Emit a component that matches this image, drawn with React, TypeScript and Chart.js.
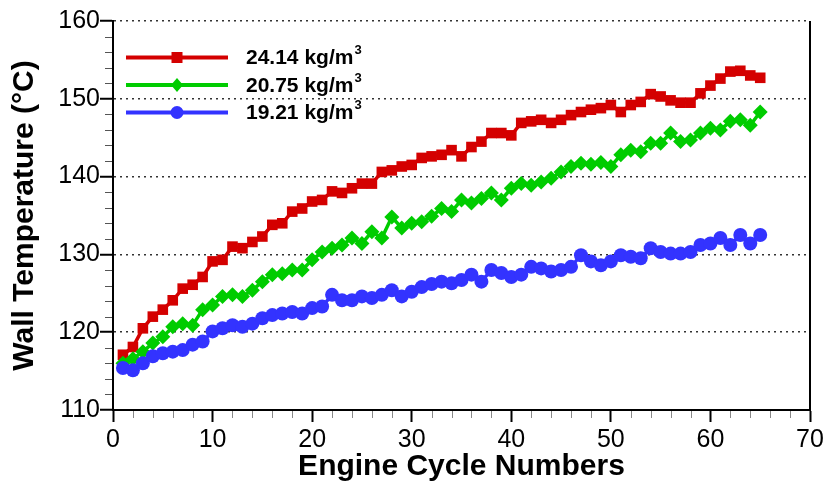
import React, { useEffect, useRef } from 'react';
import { Chart, registerables } from 'chart.js';

Chart.register(...registerables);

const CYCLES = [
  1, 2, 3, 4, 5, 6, 7, 8, 9, 10, 11, 12, 13, 14, 15, 16, 17, 18, 19, 20,
  21, 22, 23, 24, 25, 26, 27, 28, 29, 30, 31, 32, 33, 34, 35, 36, 37, 38, 39, 40,
  41, 42, 43, 44, 45, 46, 47, 48, 49, 50, 51, 52, 53, 54, 55, 56, 57, 58, 59, 60,
  61, 62, 63, 64, 65,
];

const RED_24_14 = [
  117.1, 118.1, 120.5, 122.0, 122.9, 124.1, 125.6, 126.1, 127.1, 129.1,
  129.3, 131.0, 130.8, 131.6, 132.3, 133.8, 134.0, 135.5, 135.9, 136.8,
  137.0, 138.1, 137.9, 138.5, 139.1, 139.1, 140.6, 140.8, 141.3, 141.5,
  142.4, 142.6, 142.8, 143.4, 142.6, 143.8, 144.5, 145.6, 145.6, 145.3,
  146.9, 147.1, 147.3, 146.9, 147.3, 147.9, 148.3, 148.6, 148.8, 149.2,
  148.3, 149.2, 149.6, 150.6, 150.3, 149.8, 149.5, 149.5, 150.7, 151.7,
  152.6, 153.5, 153.6, 153.0, 152.7,
];

const GREEN_20_75 = [
  116.0, 116.6, 117.5, 118.6, 119.4, 120.7, 121.1, 120.9, 122.9, 123.5,
  124.6, 124.8, 124.6, 125.4, 126.5, 127.4, 127.5, 128.0, 128.0, 129.3,
  130.3, 130.8, 131.2, 132.1, 131.4, 132.9, 132.1, 134.8, 133.4, 134.0,
  134.2, 134.9, 135.9, 135.5, 137.0, 136.6, 137.2, 137.9, 137.0, 138.5,
  139.1, 138.9, 139.3, 139.8, 140.6, 141.3, 141.7, 141.6, 141.8, 141.3,
  142.8, 143.4, 143.2, 144.3, 144.3, 145.6, 144.5, 144.7, 145.6, 146.2,
  146.0, 147.1, 147.3, 146.6, 148.3,
];

const BLUE_19_21 = [
  115.4, 115.1, 116.0, 116.9, 117.3, 117.5, 117.7, 118.4, 118.8, 120.1,
  120.5, 120.9, 120.7, 121.1, 121.8, 122.2, 122.4, 122.6, 122.4, 123.1,
  123.3, 124.8, 124.1, 124.1, 124.6, 124.4, 124.8, 125.4, 124.6, 125.2,
  125.8, 126.2, 126.5, 126.3, 126.7, 127.4, 126.5, 128.0, 127.6, 127.1,
  127.4, 128.4, 128.2, 127.8, 128.0, 128.4, 129.9, 129.1, 128.6, 129.1,
  129.9, 129.7, 129.5, 130.8, 130.3, 130.1, 130.1, 130.3, 131.2, 131.4,
  132.1, 131.2, 132.5, 131.4, 132.5,
];

const SERIES_LABELS = ['24.14 kg/m', '20.75 kg/m', '19.21 kg/m'];
const SERIES_SUPERSCRIPT = '3';
const X_TITLE = 'Engine Cycle Numbers';
const Y_TITLE = 'Wall Temperature (°C)';
const X_MIN = 0;
const X_MAX = 70;
const X_STEP = 10;
const Y_MIN = 110;
const Y_MAX = 160;
const Y_STEP = 10;
const MINOR_STEP = 2;

const FONT = "'Liberation Sans', Arial, Helvetica, sans-serif";
const COLORS = ['#d40000', '#00cc00', '#3333ff'];
const SHAPES = ['rect', 'rectRot', 'circle'];

export default function App() {
  const ref = useRef<HTMLCanvasElement>(null);

  useEffect(() => {
    document.body.style.margin = '0';
    const canvas = ref.current;
    if (!canvas) return;

    const toPts = (arr: number[]) => CYCLES.map((c, i) => ({ x: c, y: arr[i] }));
    const values = [RED_24_14, GREEN_20_75, BLUE_19_21];
    const radii = [7.5, 7.5, 7];

    const datasets = values.map((arr, i) => ({
      label: SERIES_LABELS[i],
      data: toPts(arr),
      borderColor: COLORS[i],
      backgroundColor: COLORS[i],
      borderWidth: 3.5,
      pointStyle: SHAPES[i] as any,
      pointRadius: radii[i],
      pointBorderWidth: 0,
      pointBackgroundColor: COLORS[i],
      tension: 0,
      order: 3 - i,
    }));

    const extras = {
      id: 'extras',
      afterDraw(chart: any) {
        const c = chart.ctx as CanvasRenderingContext2D;
        const area = chart.chartArea;
        const xs = chart.scales.x;
        const ys = chart.scales.y;
        c.save();
        // right frame line
        c.strokeStyle = '#000';
        c.lineWidth = 2;
        c.beginPath();
        c.moveTo(area.right, area.top);
        c.lineTo(area.right, area.bottom + 1);
        c.stroke();
        // minor ticks
        c.lineWidth = 1;
        c.strokeStyle = '#888';
        for (let v = X_MIN; v <= X_MAX; v += MINOR_STEP) {
          if (v % X_STEP === 0) continue;
          const px = Math.round(xs.getPixelForValue(v)) + 0.5;
          c.beginPath();
          c.moveTo(px, area.bottom + 1);
          c.lineTo(px, area.bottom + 8);
          c.stroke();
        }
        c.strokeStyle = '#555';
        for (let v = Y_MIN; v <= Y_MAX; v += MINOR_STEP) {
          if (v % Y_STEP === 0) continue;
          const py = Math.round(ys.getPixelForValue(v)) + 0.5;
          c.beginPath();
          c.moveTo(area.left - 8, py);
          c.lineTo(area.left - 1, py);
          c.stroke();
        }
        // legend
        const lx0 = area.left + 13;
        const lx1 = area.left + 115;
        const mx = area.left + 64;
        const tx = area.left + 133;
        for (let i = 0; i < 3; i++) {
          const y = area.top + 36.5 + i * 27.5;
          c.strokeStyle = COLORS[i];
          c.fillStyle = COLORS[i];
          c.lineWidth = 4;
          c.beginPath();
          c.moveTo(lx0, y);
          c.lineTo(lx1, y);
          c.stroke();
          c.beginPath();
          if (i === 0) {
            c.rect(mx - 5.5, y - 5.5, 11, 11);
          } else if (i === 1) {
            c.moveTo(mx, y - 7);
            c.lineTo(mx + 6, y);
            c.lineTo(mx, y + 7);
            c.lineTo(mx - 6, y);
            c.closePath();
          } else {
            c.arc(mx, y, 6.5, 0, Math.PI * 2);
          }
          c.fill();
          c.fillStyle = '#000';
          c.textBaseline = 'middle';
          c.textAlign = 'left';
          c.font = `bold 21px ${FONT}`;
          c.fillText(SERIES_LABELS[i], tx, y + 1);
          const w = c.measureText(SERIES_LABELS[i]).width;
          c.font = `bold 13px ${FONT}`;
          c.fillText(SERIES_SUPERSCRIPT, tx + w + 1, y - 7);
        }
        c.restore();
      },
    };

    const chart = new Chart(canvas, {
      type: 'line',
      data: { datasets: datasets as any },
      options: {
        animation: false,
        responsive: false,
        maintainAspectRatio: false,
        layout: { padding: { top: 21, right: 19, left: 0, bottom: 0 } },
        plugins: {
          legend: { display: false },
          tooltip: { enabled: false },
          title: { display: false },
        },
        scales: {
          x: {
            type: 'linear',
            min: X_MIN,
            max: X_MAX,
            afterFit: (s: any) => {
              s.height = 77;
            },
            ticks: {
              stepSize: X_STEP,
              color: '#000',
              font: { family: FONT, size: 25 },
              padding: 3,
              maxRotation: 0,
            },
            grid: {
              drawOnChartArea: false,
              drawTicks: true,
              tickLength: 12,
              tickColor: '#000',
              tickWidth: 2,
              color: '#000',
            },
            border: { display: true, color: '#000', width: 2 },
            title: {
              display: true,
              text: X_TITLE,
              color: '#000',
              font: { family: FONT, size: 30, weight: 'bold' },
              padding: { top: 0, bottom: 2 },
            },
          },
          y: {
            type: 'linear',
            min: Y_MIN,
            max: Y_MAX,
            afterFit: (s: any) => {
              s.width = 113;
            },
            ticks: {
              stepSize: Y_STEP,
              color: '#000',
              font: { family: FONT, size: 25 },
              padding: 0,
            },
            grid: {
              drawTicks: true,
              tickLength: 13,
              tickColor: '#000',
              tickWidth: 2,
              tickBorderDash: [],
              lineWidth: 1.5,
              color: (ctx: any) => (ctx.tick && ctx.tick.value === Y_MIN ? 'rgba(0,0,0,0)' : '#333'),
            },
            border: { display: true, color: '#000', width: 2, dash: [2, 4] },
            title: {
              display: true,
              text: Y_TITLE,
              color: '#000',
              font: { family: FONT, size: 30, weight: 'bold' },
              padding: { top: 7, bottom: 0 },
            },
          },
        },
      },
      plugins: [extras],
    });

    return () => chart.destroy();
  }, []);

  return (
    <div style={{ width: 829, height: 487, background: '#fff' }}>
      <canvas ref={ref} width={829} height={487} style={{ display: 'block' }} />
    </div>
  );
}
